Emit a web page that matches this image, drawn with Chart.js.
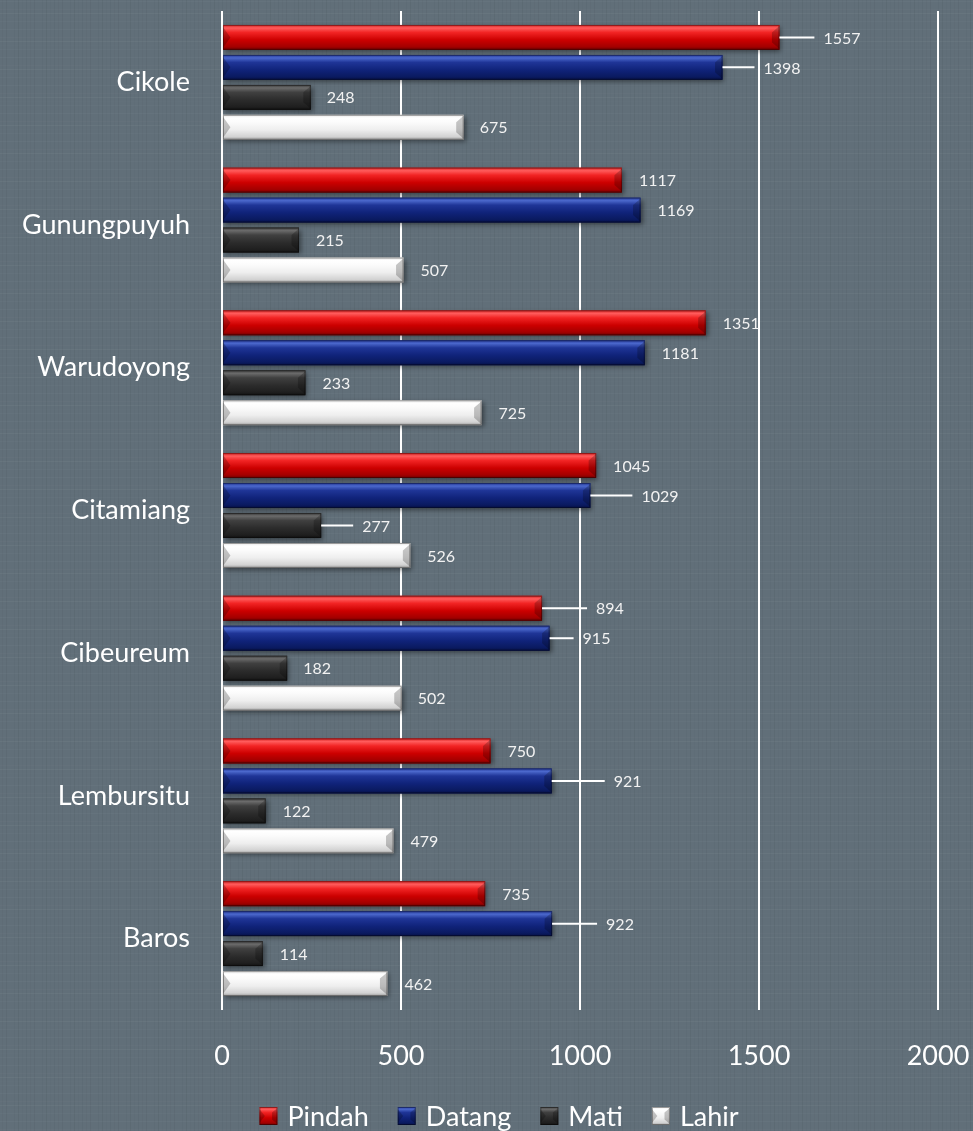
<!DOCTYPE html>
<html lang="id">
<head>
<meta charset="UTF-8" />
<meta name="viewport" content="width=device-width, initial-scale=1.0" />
<title>Mutasi Penduduk per Kecamatan</title>
<script src="https://cdn.jsdelivr.net/npm/chart.js@4.4.1/dist/chart.umd.min.js"></script>
<style>
  html, body { margin: 0; padding: 0; background: #606e78; }
  #wrap { width: 973px; height: 1131px; position: relative; }
</style>
</head>
<body>
<div id="wrap"><canvas id="chart"></canvas></div>
<script>
// data
const kecamatan = ["Cikole", "Gunungpuyuh", "Warudoyong", "Citamiang", "Cibeureum", "Lembursitu", "Baros"];
const pindah = [1557, 1117, 1351, 1045, 894, 750, 735];
const datang = [1398, 1169, 1181, 1029, 915, 921, 922];
const mati = [248, 215, 233, 277, 182, 122, 114];
const lahir = [675, 507, 725, 526, 502, 479, 462];
const xTicks = [0, 500, 1000, 1500, 2000];

// how far each value label sits from its bar end (px); long ones get a leader line
const labelNudge = [
  [44, 17, 17, 17, 54, 17, 17],
  [41, 17, 17, 51, 33, 62, 54],
  [16, 17, 17, 41, 16, 17, 17],
  [16, 17, 17, 17, 16, 17, 17]
];

const FONT = "Lato, 'Open Sans', sans-serif";
const BG = "#616f79";

// vertical shading for the "glass" bars: [stop, colour]
const shades = [
  [[0, "#d42020"], [0.12, "#ff5c5c"], [0.3, "#f22424"], [0.6, "#cc0000"], [0.88, "#a30000"], [1, "#6e0000"]],
  [[0, "#25399a"], [0.12, "#4b68cc"], [0.3, "#1f3597"], [0.6, "#10237a"], [0.88, "#0a1a60"], [1, "#061045"]],
  [[0, "#3a3a3a"], [0.12, "#6b6b6b"], [0.3, "#404040"], [0.6, "#2c2c2c"], [0.88, "#1f1f1f"], [1, "#111111"]],
  [[0, "#e6e6e6"], [0.12, "#ffffff"], [0.3, "#fbfbfb"], [0.6, "#eeeeee"], [0.88, "#d2d2d2"], [1, "#9a9a9a"]]
];

function paintBar(ctx, x, y, w, h, stops, shadow) {
  if (w <= 0) return;
  ctx.save();
  if (shadow) {
    ctx.shadowColor = "rgba(0,0,0,0.45)";
    ctx.shadowBlur = 5;
    ctx.shadowOffsetX = 2;
    ctx.shadowOffsetY = 2;
  }
  const g = ctx.createLinearGradient(0, y, 0, y + h);
  stops.forEach(s => g.addColorStop(s[0], s[1]));
  ctx.fillStyle = g;
  ctx.fillRect(x, y, w, h);
  ctx.restore();

  // bevelled ends
  const b = Math.min(h * 0.3, w / 2);
  ctx.save();
  ctx.fillStyle = "rgba(0,0,0,0.22)";
  ctx.beginPath();
  ctx.moveTo(x, y + 2);
  ctx.lineTo(x + b, y + h / 2);
  ctx.lineTo(x, y + h - 2);
  ctx.closePath();
  ctx.fill();
  ctx.beginPath();
  ctx.moveTo(x + w, y + 1);
  ctx.lineTo(x + w - b, y + b);
  ctx.lineTo(x + w - b, y + h - b);
  ctx.lineTo(x + w, y + h - 1);
  ctx.closePath();
  ctx.fill();
  ctx.strokeStyle = "rgba(0,0,0,0.35)";
  ctx.lineWidth = 1;
  ctx.strokeRect(x + 0.5, y + 0.5, w - 1, h - 1);
  ctx.restore();
}

// fabric-like backdrop built from a small fixed pattern of thin lines
function fabricPattern(ctx) {
  const c = document.createElement("canvas");
  c.width = 28; c.height = 28;
  const p = c.getContext("2d");
  p.fillStyle = BG;
  p.fillRect(0, 0, 28, 28);
  const alphaH = [0.03, 0.0, 0.02, 0.045, 0.01, 0.025, 0.0];
  const alphaV = [0.02, 0.04, 0.0, 0.025, 0.045, 0.01, 0.03];
  for (let i = 0; i < 7; i++) {
    p.fillStyle = "rgba(255,255,255," + alphaH[i] + ")";
    p.fillRect(0, i * 4 + 1, 28, 1);
    p.fillStyle = "rgba(0,0,0," + alphaV[i] + ")";
    p.fillRect(i * 4 + 2, 0, 1, 28);
  }
  return ctx.createPattern(c, "repeat");
}

const backdrop = {
  id: "backdrop",
  beforeDraw(chart) {
    const ctx = chart.ctx;
    ctx.save();
    ctx.fillStyle = fabricPattern(ctx);
    ctx.fillRect(0, 0, chart.width, chart.height);
    ctx.restore();
  }
};

const glassBars = {
  id: "glassBars",
  afterDatasetsDraw(chart) {
    const ctx = chart.ctx;
    chart.data.datasets.forEach((ds, di) => {
      const meta = chart.getDatasetMeta(di);
      meta.data.forEach(bar => {
        const p = bar.getProps(["x", "y", "base", "height"], true);
        paintBar(ctx, p.base, p.y - p.height / 2, p.x - p.base, p.height, shades[di], true);
      });
    });
    // value labels
    ctx.save();
    ctx.font = "16px " + FONT;
    ctx.fillStyle = "#f2f2f2";
    ctx.textAlign = "left";
    ctx.textBaseline = "middle";
    chart.data.datasets.forEach((ds, di) => {
      const meta = chart.getDatasetMeta(di);
      meta.data.forEach((bar, i) => {
        const p = bar.getProps(["x", "y"], true);
        const dx = labelNudge[di][i];
        if (dx > 25) {
          ctx.strokeStyle = "#ffffff";
          ctx.lineWidth = 2;
          ctx.beginPath();
          ctx.moveTo(p.x, p.y);
          ctx.lineTo(p.x + dx - 9, p.y);
          ctx.stroke();
        }
        ctx.fillText(ds.data[i], p.x + dx, p.y + 1);
      });
    });
    ctx.restore();
  }
};

// legend drawn by hand so the spacing follows the picture
const glassLegend = {
  id: "glassLegend",
  afterDraw(chart) {
    const ctx = chart.ctx;
    const box = 18, gapText = 10, gapItem = 29, centre = 499, top = 1107;
    ctx.save();
    ctx.font = "27px " + FONT;
    const items = chart.data.datasets.map((ds, di) => ({ label: ds.label, di, w: ctx.measureText(ds.label).width }));
    const total = items.reduce((s, it) => s + box + gapText + it.w, 0) + gapItem * (items.length - 1);
    let x = centre - total / 2;
    items.forEach(it => {
      paintBar(ctx, x, top, box, box, shades[it.di], false);
      ctx.fillStyle = "#ffffff";
      ctx.textAlign = "left";
      ctx.textBaseline = "middle";
      ctx.fillText(it.label, x + box + gapText, top + box / 2 + 1);
      x += box + gapText + it.w + gapItem;
    });
    ctx.restore();
  }
};

const chart = new Chart(document.getElementById("chart"), {
  type: "bar",
  data: {
    labels: kecamatan,
    datasets: [
      { label: "Pindah", data: pindah, backgroundColor: "#cc0000" },
      { label: "Datang", data: datang, backgroundColor: "#10237a" },
      { label: "Mati", data: mati, backgroundColor: "#2c2c2c" },
      { label: "Lahir", data: lahir, backgroundColor: "#eeeeee" }
    ]
  },
  options: {
    indexAxis: "y",
    responsive: true,
    maintainAspectRatio: false,
    animation: false,
    categoryPercentage: 0.84,
    barPercentage: 0.83,
    layout: { padding: { top: 11, right: 35, bottom: 36, left: 0 } },
    plugins: {
      legend: { display: false },
      tooltip: { enabled: false }
    },
    scales: {
      x: {
        min: xTicks[0],
        max: xTicks[xTicks.length - 1],
        ticks: {
          stepSize: xTicks[1] - xTicks[0],
          color: "#ffffff",
          font: { family: FONT, size: 27 },
          padding: 30,
          callback: v => String(v)
        },
        grid: { color: "#ffffff", lineWidth: 2, drawTicks: false },
        border: { display: false },
        afterFit(s) { s.height = 85; s.paddingLeft = 0; s.paddingRight = 0; }
      },
      y: {
        ticks: {
          color: "#ffffff",
          font: { family: FONT, size: 27 },
          padding: 32
        },
        grid: { display: false, drawTicks: false },
        border: { display: false },
        afterFit(s) { s.width = 222; s.paddingTop = 0; s.paddingBottom = 0; }
      }
    }
  },
  plugins: [backdrop, glassBars, glassLegend]
});
</script>
</body>
</html>
